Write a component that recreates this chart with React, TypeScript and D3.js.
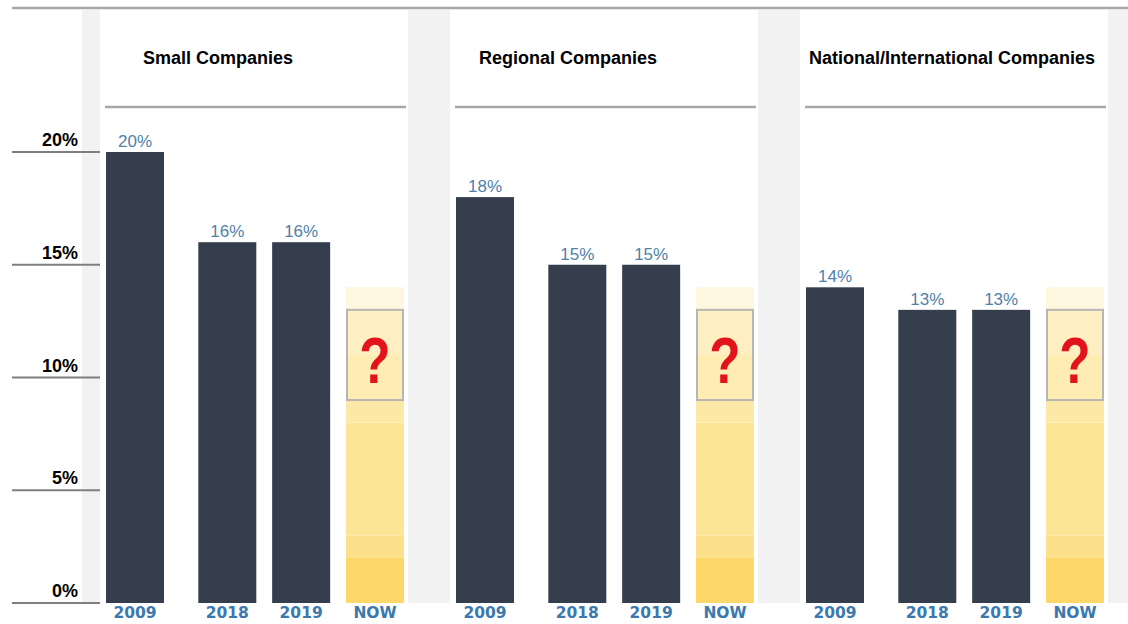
import React, { useEffect, useRef } from 'react';
import * as d3 from 'd3';

// data
const groups = ['Small Companies', 'Regional Companies', 'National/International Companies'];
const years = ['2009', '2018', '2019', 'NOW'];
const smallValues = [20, 16, 16];
const regionalValues = [18, 15, 15];
const nationalValues = [14, 13, 13];
const yTicks = [0, 5, 10, 15, 20];
// the "NOW" column: a shaded estimate band with an unknown range boxed in it
const nowTop = 14;
const nowStops = [0, 2, 3, 8, 9, 11, 13];
const nowBox = [9, 13];

const groupValues = [smallValues, regionalValues, nationalValues];

// styling
const nowColors = ['#fdd868', '#fde08a', '#fde597', '#fde9a7', '#feecb3', '#feefc3', '#fef6de'];
const barColor = '#343e4d';
const yearSlots = [0, 1.25, 2.25, 3.25];

const W = 1128;
const H = 624;

export default function App() {
  const svgRef = useRef<SVGSVGElement>(null);

  useEffect(() => {
    if (!svgRef.current) return;
    const svg = d3.select(svgRef.current);
    svg.selectAll('*').remove();

    const top = 10;
    const bottom = 603;
    const barW = 58;

    const y = d3.scaleLinear().domain([0, 20]).range([bottom, 152]);
    const panel = d3.scaleBand<string>().domain(groups).range([100, 1108]).paddingInner(0.12);
    const slot = d3.scaleLinear().domain([0, 3.25]).range([6, 246]);

    // background
    svg.append('rect')
      .attr('x', 82).attr('y', top)
      .attr('width', W - 82).attr('height', bottom - top)
      .attr('fill', '#f2f2f2');

    svg.selectAll('rect.panel')
      .data(groups)
      .enter()
      .append('rect')
      .attr('class', 'panel')
      .attr('x', d => panel(d)!)
      .attr('y', top)
      .attr('width', panel.bandwidth())
      .attr('height', bottom - top)
      .attr('fill', '#ffffff');

    // top rule
    svg.append('line')
      .attr('x1', 12).attr('x2', W)
      .attr('y1', 8).attr('y2', 8)
      .attr('stroke', '#a6a6a6').attr('stroke-width', 2.5);

    // y axis ticks
    const ticks = svg.append('g');
    ticks.selectAll('line')
      .data(yTicks)
      .enter()
      .append('line')
      .attr('x1', 12).attr('x2', 100)
      .attr('y1', d => y(d)).attr('y2', d => y(d))
      .attr('stroke', '#7f7f7f').attr('stroke-width', 2);
    ticks.selectAll('text')
      .data(yTicks)
      .enter()
      .append('text')
      .attr('x', 78)
      .attr('y', d => y(d) - 6)
      .attr('text-anchor', 'end')
      .style('font-family', '"Liberation Sans", Arial, sans-serif')
      .style('font-weight', 'bold')
      .style('font-size', '18px')
      .attr('fill', '#000')
      .text(d => `${d}%`);

    groups.forEach((name, gi) => {
      const px = panel(name)!;
      const g = svg.append('g').attr('transform', `translate(${px},0)`);
      const xOf = (i: number) => slot(yearSlots[i]);
      const values = groupValues[gi];

      // title: centred over the three real bars, but never left of the panel edge
      const titleCenter = (xOf(0) + xOf(2) + barW) / 2;
      const title = g.append('text')
        .attr('x', titleCenter)
        .attr('y', 64)
        .attr('text-anchor', 'middle')
        .style('font-family', '"Liberation Sans", Arial, sans-serif')
        .style('font-weight', 'bold')
        .style('font-size', '18px')
        .attr('fill', '#000')
        .text(name);
      const tw = (title.node() as SVGTextElement).getComputedTextLength();
      const minLeft = xOf(0) + 3;
      if (titleCenter - tw / 2 < minLeft) title.attr('x', minLeft + tw / 2);

      // rule under title
      g.append('line')
        .attr('x1', xOf(0) - 1).attr('x2', xOf(3) + barW + 2)
        .attr('y1', 107).attr('y2', 107)
        .attr('stroke', '#a6a6a6').attr('stroke-width', 2.5);

      // actual bars
      g.selectAll('rect.bar')
        .data(values)
        .enter()
        .append('rect')
        .attr('class', 'bar')
        .attr('x', (_, i) => xOf(i))
        .attr('y', d => y(d))
        .attr('width', barW)
        .attr('height', d => bottom - y(d))
        .attr('fill', barColor);

      g.selectAll('text.val')
        .data(values)
        .enter()
        .append('text')
        .attr('class', 'val')
        .attr('x', (_, i) => xOf(i) + barW / 2)
        .attr('y', d => y(d) - 5)
        .attr('text-anchor', 'middle')
        .style('font-family', '"Liberation Sans", Arial, sans-serif')
        .style('font-size', '17px')
        .attr('fill', '#4f81a9')
        .text(d => `${d}%`);

      // NOW column
      const nx = xOf(3);
      const bands = d3.pairs([...nowStops, nowTop]);
      g.selectAll('rect.now')
        .data(bands)
        .enter()
        .append('rect')
        .attr('class', 'now')
        .attr('x', nx)
        .attr('y', d => y(d[1]))
        .attr('width', barW)
        .attr('height', d => y(d[0]) - y(d[1]))
        .attr('fill', (_, i) => nowColors[i]);

      g.append('rect')
        .attr('x', nx + 1)
        .attr('y', y(nowBox[1]))
        .attr('width', barW - 2)
        .attr('height', y(nowBox[0]) - y(nowBox[1]))
        .attr('fill', 'none')
        .attr('stroke', '#b5b5b5')
        .attr('stroke-width', 2);

      const qx = nx + barW / 2;
      const qy = y(nowBox[0]) - 17;
      g.append('text')
        .attr('transform', `translate(${qx},${qy}) scale(0.8,1)`)
        .attr('text-anchor', 'middle')
        .style('font-family', '"Liberation Sans", Arial, sans-serif')
        .style('font-weight', 'bold')
        .style('font-size', '64px')
        .attr('fill', '#e3131b')
        .text('?');

      // year labels
      g.selectAll('text.year')
        .data(years)
        .enter()
        .append('text')
        .attr('class', 'year')
        .attr('x', (_, i) => xOf(i) + barW / 2)
        .attr('y', 618)
        .attr('text-anchor', 'middle')
        .style('font-family', '"DejaVu Sans", Verdana, sans-serif')
        .style('font-weight', 'bold')
        .style('font-size', '15.5px')
        .attr('fill', '#3b78ad')
        .text(d => d);
    });
  }, []);

  return (
    <svg
      ref={svgRef}
      width={W}
      height={H}
      style={{ position: 'absolute', left: 0, top: 0, background: '#fff', display: 'block' }}
    />
  );
}
